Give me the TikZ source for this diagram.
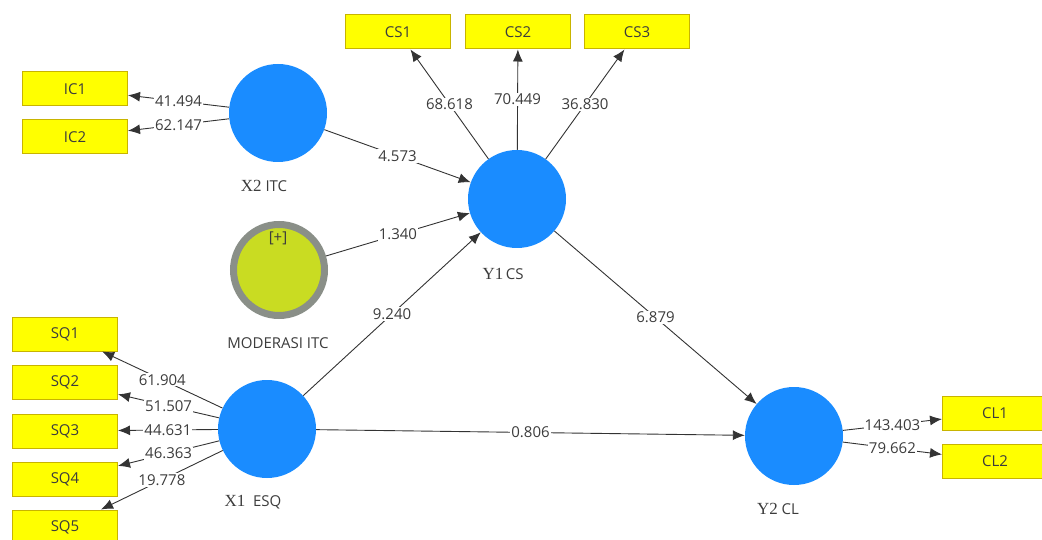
\documentclass[tikz,border=0pt]{standalone}
\usepackage{fontspec}
\setmainfont{Open Sans}
\newfontfamily\tmfont{Liberation Serif}
\usepackage{xcolor}
\usepackage{tikz}
\usetikzlibrary{arrows.meta}
\definecolor{plsblue}{HTML}{1A8CFF}
\definecolor{plsyellow}{HTML}{FFFF00}
\definecolor{plsedge}{HTML}{C8B400}
\definecolor{modfill}{HTML}{C9DC22}
\definecolor{modring}{HTML}{8A8F88}
\definecolor{txtgray}{HTML}{3C3C3C}
\tikzstyle{latent}=[circle,fill=plsblue,minimum size=98pt,inner sep=0pt]
\tikzstyle{moder}=[circle,fill=modfill,draw=modring,line width=7pt,minimum size=91pt,inner sep=0pt]
\tikzstyle{ind}=[rectangle,fill=plsyellow,draw=plsedge,line width=1pt,minimum width=105pt,minimum height=34pt,inner sep=0pt,font=\fontsize{15}{17}\selectfont,text=txtgray]
\tikzstyle{coef}=[fill=white,inner sep=1pt,font=\fontsize{15}{17}\selectfont,text=txtgray]
\tikzstyle{lvname}=[font=\fontsize{15}{17}\selectfont,text=txtgray]
\tikzstyle{path}=[->,draw=black!80,line width=0.9pt]

\begin{document}
\begin{tikzpicture}[x=1pt,y=-1pt,>={Latex[length=12pt,width=10pt]}]
        \clip (0,0) rectangle (1042,540);
        % indicators
        \node at ( 75, 89) [ind] (IC1) {IC1};
        \node at ( 75,137) [ind] (IC2) {IC2};
        \node at (398, 32) [ind] (CS1) {CS1};
        \node at (518, 32) [ind] (CS2) {CS2};
        \node at (637, 32) [ind] (CS3) {CS3};
        \node at ( 65,334) [ind] (SQ1) {SQ1};
        \node at ( 65,382) [ind] (SQ2) {SQ2};
        \node at ( 65,431) [ind] (SQ3) {SQ3};
        \node at ( 65,479) [ind] (SQ4) {SQ4};
        \node at ( 65,527) [ind] (SQ5) {SQ5};
        \node at (995,413) [ind] (CL1) {CL1};
        \node at (995,461) [ind] (CL2) {CL2};
        % constructs
        \node at (278,113) [latent] (X2) {};
        \node at (517,199) [latent] (Y1) {};
        \node at (279,270) [moder] (MOD) {};
        \node at (267,429) [latent] (X1) {};
        \node at (794,436) [latent] (Y2) {};
        \node at (278,238) [lvname] (MODplus) {[+]};
        \node at (264,186) [lvname] (X2name) {{\tmfont\fontsize{17}{19}\selectfont X2} ITC};
        \node at (503,274) [lvname] (Y1name) {{\tmfont\fontsize{17}{19}\selectfont Y1}\,CS};
        \node at (278,343) [lvname] (MODname) {MODERASI ITC};
        \node at (253,502) [lvname] (X1name) {{\tmfont\fontsize{17}{19}\selectfont X1}\ \ ESQ};
        \node at (778,509) [lvname] (Y2name) {{\tmfont\fontsize{17}{19}\selectfont Y2} CL};
        % outer loadings
        \draw [path] (X2) to node[coef] {41.494} (IC1);
        \draw [path] (X2) to node[coef] {62.147} (IC2);
        \draw [path] (Y1) to node[coef] {68.618} (CS1);
        \draw [path] (Y1) to node[coef] {70.449} (CS2);
        \draw [path] (Y1) to node[coef] {36.830} (CS3);
        \draw [path] (X1) to node[coef] {61.904} (SQ1);
        \draw [path] (X1) to node[coef] {51.507} (SQ2);
        \draw [path] (X1) to node[coef] {44.631} (SQ3);
        \draw [path] (X1) to node[coef] {46.363} (SQ4);
        \draw [path] (X1) to node[coef] {19.778} (SQ5);
        \draw [path] (Y2) to node[coef] {143.403} (CL1);
        \draw [path] (Y2) to node[coef] {79.662} (CL2);
        % inner model
        \draw [path] (X2) to node[coef] {4.573} (Y1);
        \draw [path] (MOD) to node[coef] {1.340} (Y1);
        \draw [path] (X1) to node[coef] {9.240} (Y1);
        \draw [path] (Y1) to node[coef] {6.879} (Y2);
        \draw [path] (X1) to node[coef] {0.806} (Y2);
      \end{tikzpicture}
\end{document}
